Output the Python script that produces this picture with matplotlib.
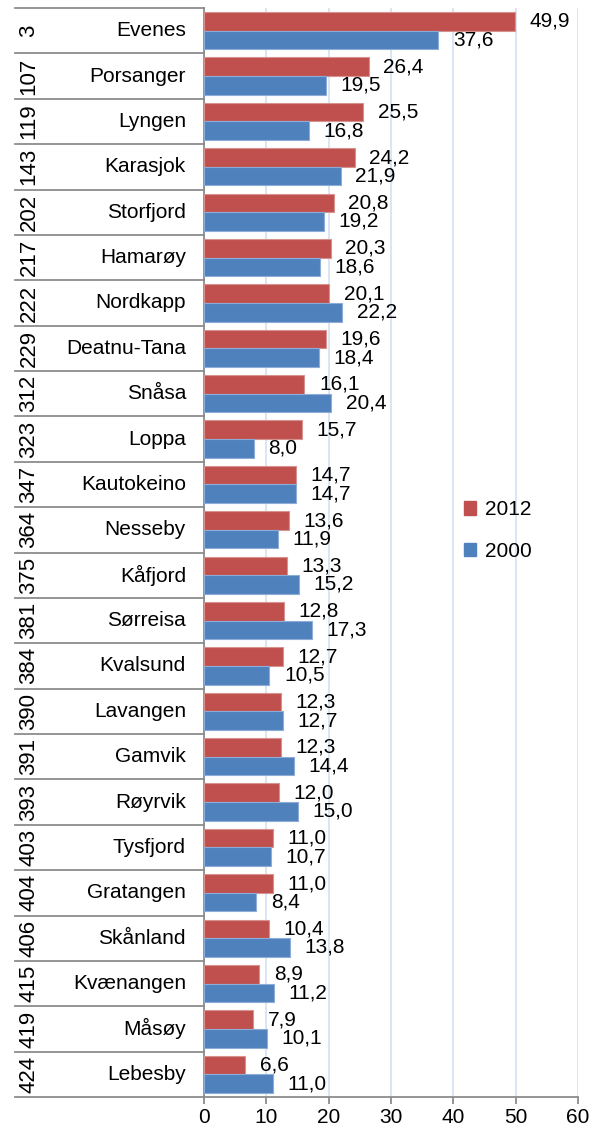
import numpy as np
import matplotlib
matplotlib.use("Agg")
import matplotlib.pyplot as plt
from matplotlib.patches import Patch
from matplotlib.transforms import blended_transform_factory

# Data

ranks = [3, 107, 119, 143, 202, 217, 222, 229, 312, 323, 347, 364,
         375, 381, 384, 390, 391, 393, 403, 404, 406, 415, 419, 424]
names = ['Evenes', 'Porsanger', 'Lyngen', 'Karasjok', 'Storfjord', 'Hamarøy',
         'Nordkapp', 'Deatnu-Tana', 'Snåsa', 'Loppa', 'Kautokeino', 'Nesseby',
         'Kåfjord', 'Sørreisa', 'Kvalsund', 'Lavangen', 'Gamvik', 'Røyrvik',
         'Tysfjord', 'Gratangen', 'Skånland', 'Kvænangen', 'Måsøy', 'Lebesby']
values_2012 = [49.9, 26.4, 25.5, 24.2, 20.8, 20.3, 20.1, 19.6, 16.1, 15.7, 14.7, 13.6,
               13.3, 12.8, 12.7, 12.3, 12.3, 12.0, 11.0, 11.0, 10.4, 8.9, 7.9, 6.6]
values_2000 = [37.6, 19.5, 16.8, 21.9, 19.2, 18.6, 22.2, 18.4, 20.4, 8.0, 14.7, 11.9,
               15.2, 17.3, 10.5, 12.7, 14.4, 15.0, 10.7, 8.4, 13.8, 11.2, 10.1, 11.0]
series_labels = ['2012', '2000']

red = '#C0504D'
blue = '#4F81BD'
grey = '#8C8C8C'

plt.rcParams['font.family'] = ['Liberation Sans', 'DejaVu Sans']
plt.rcParams['font.size'] = 15

W, H = 605, 1131
fig = plt.figure(figsize=(W / 100, H / 100), dpi=100)
left, right, top, bottom = 204, 578, 8, 1097
ax = fig.add_axes([left / W, 1 - bottom / H, (right - left) / W, (bottom - top) / H])

y = np.arange(len(names))
bh = 0.41
ax.barh(y - bh / 2, values_2012, height=bh, color=red, edgecolor='#D6928F', linewidth=0.8, zorder=3)
ax.barh(y + bh / 2, values_2000, height=bh, color=blue, edgecolor='#8DADD6', linewidth=0.8, zorder=3)

def fmt(v):
    return f"{v:.1f}".replace('.', ',')

for i in range(len(names)):
    ax.annotate(fmt(values_2012[i]), (values_2012[i], y[i] - bh / 2), xytext=(10.5, 0),
                textcoords='offset points', ha='left', va='center')
    ax.annotate(fmt(values_2000[i]), (values_2000[i], y[i] + bh / 2), xytext=(10.5, 0),
                textcoords='offset points', ha='left', va='center')

ax.set_xlim(0, 60)
ax.set_ylim(len(names) - 0.5, -0.5)
ax.set_xticks(np.arange(0, 61, 10))
ax.xaxis.grid(True, color='#D9E3F1', linewidth=1.3, zorder=0)
ax.set_axisbelow(True)
for s in ['top', 'right']:
    ax.spines[s].set_visible(False)
for s in ['left', 'bottom']:
    ax.spines[s].set_color(grey)
    ax.spines[s].set_linewidth(1.3)
ax.tick_params(axis='y', left=False, labelleft=False)
ax.tick_params(axis='x', direction='out', length=5, width=1.3, color=grey, pad=3)

# multi-level category "table" on the left
tr = blended_transform_factory(ax.transAxes, ax.transData)
x0 = (15 - left) / (right - left)
for b in np.arange(len(names) + 1) - 0.5:
    ax.plot([x0, 0], [b, b], color=grey, lw=1.3, transform=tr, clip_on=False)
for i in range(len(names)):
    ax.text((29 - left) / (right - left), y[i], str(ranks[i]), rotation=90,
            ha='center', va='center', transform=tr, fontsize=16)
    ax.text((186 - left) / (right - left), y[i], names[i],
            ha='right', va='center', transform=tr)

handles = [Patch(color=red), Patch(color=blue)]
ax.legend(handles, series_labels, loc='center left', bbox_to_anchor=(0.645, 0.52),
          frameon=False, handlelength=0.6, handleheight=0.6, handletextpad=0.4,
          labelspacing=1.1)

fig.savefig('out.png', dpi=100)
